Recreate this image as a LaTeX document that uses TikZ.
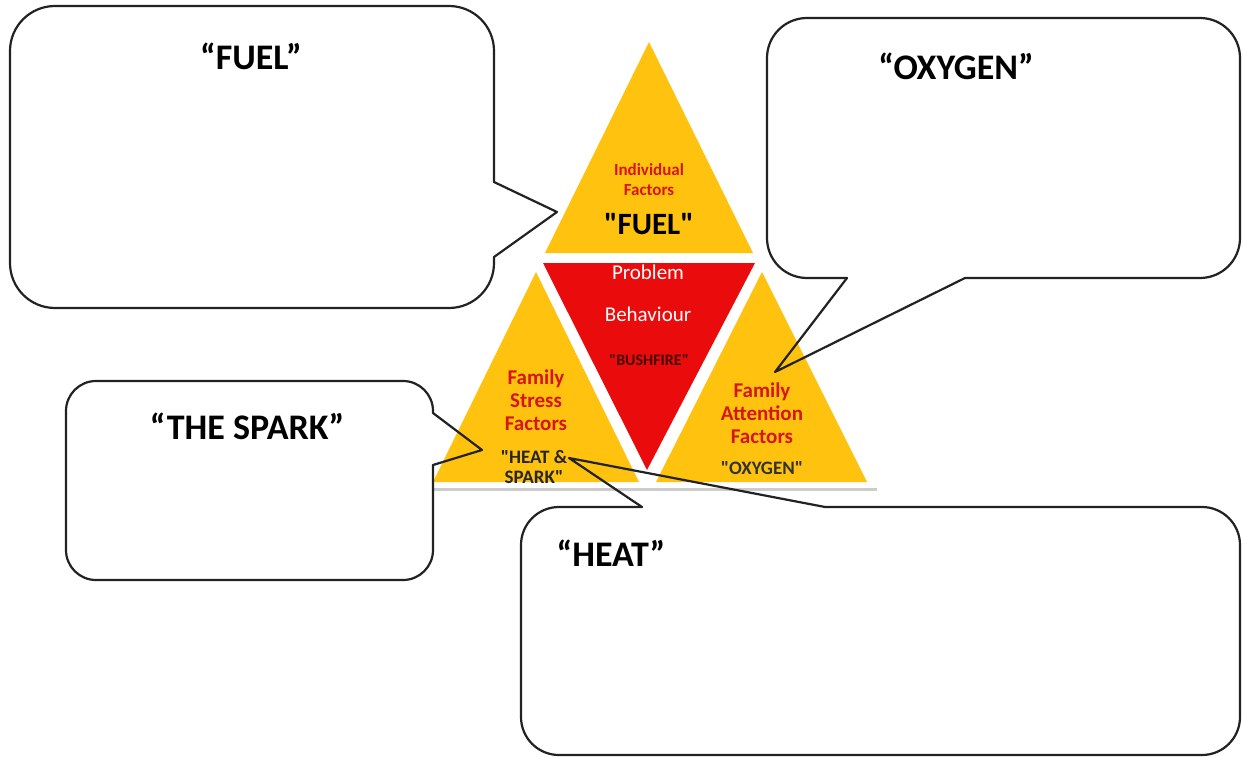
\documentclass[tikz,border=0pt]{standalone}
\usepackage{fontspec}
\setmainfont{Carlito}[Ligatures=TeXOff]
\definecolor{tyellow}{RGB}{255,194,14}
\definecolor{tred}{RGB}{234,12,12}
\definecolor{tredtext}{RGB}{212,22,22}
\definecolor{bushtext}{RGB}{70,8,8}
\definecolor{outline}{RGB}{34,34,34}
\tikzset{
  callout/.style={draw=outline, line width=2.2pt, line cap=round, line join=round},
  bigtitle/.style={font=\fontsize{36}{40}\selectfont\bfseries, text=black, inner sep=0pt},
  redlbl/.style={font=\fontsize{21}{23}\selectfont\bfseries, text=tredtext, align=center, inner sep=0pt},
  blklbl/.style={font=\fontsize{19}{20}\selectfont\bfseries, text=black!85, align=center, inner sep=0pt},
  whitelbl/.style={font=\fontsize{21}{22}\selectfont, text=white, inner sep=0pt},
}
\begin{document}
\begin{tikzpicture}[x=1pt,y=-1pt]
\fill[white] (0,0) rectangle (1243,757);
\useasboundingbox (0,0) rectangle (1243,757);

% ---- fire triangle ----
\draw[gray!40, line width=3pt] (433,489) -- (877,489);
% top: individual factors
\coordinate (apex) at (649,42);
\fill[tyellow] (apex) -- (545,253) -- (753,253) -- cycle;
% centre: problem behaviour
\coordinate (rl) at (543,263);
\coordinate (rr) at (755,263);
\coordinate (rb) at (647,470);
\fill[tred] (rl) -- (rr) -- (rb) -- cycle;
% left: family stress
\coordinate (la) at (536,272);
\fill[tyellow] (la) -- (433,482) -- (639,482) -- cycle;
% right: family attention
\coordinate (ra) at (762,272);
\fill[tyellow] (ra) -- (656,482) -- (867,482) -- cycle;

% triangle texts
\node[redlbl, font=\fontsize{17}{19}\selectfont\bfseries] (ind) at (649,170) {Individual};
\node[redlbl, font=\fontsize{17}{19}\selectfont\bfseries] (indf) at (649,190) {Factors};
\node[blklbl, font=\fontsize{31}{33}\selectfont\bfseries, text=black] (fuelq) at (649,224) {"FUEL"};
\node[whitelbl] (prob) at (648,272) {Problem};
\node[whitelbl] (beh) at (648,314) {Behaviour};
\node[font=\fontsize{16}{18}\selectfont\bfseries, text=bushtext, inner sep=0pt] (bush) at (649,360) {"BUSHFIRE"};
\node[redlbl, align=center] (fsf) at (536,400) {Family\\Stress\\Factors};
\node[blklbl] (heat) at (534,467) {"HEAT \&\\SPARK"};
\node[redlbl, align=center] (faf) at (762,413) {Family\\Attention\\Factors};
\node[font=\fontsize{19}{20}\selectfont\bfseries, text=black!80, inner sep=0pt] (oxy) at (762,468) {"OXYGEN"};

% ---- callout: FUEL ----
\draw[callout, rounded corners=45pt] (494,257) -- (494,308) -- (10,308) -- (10,6) -- (494,6) -- (494,182);
\coordinate (fueltip) at (557,212);
\draw[callout] (494,182) -- (fueltip) -- (494,257);
\node[bigtitle] (fuel) at (251,56) {“FUEL”};

% ---- callout: OXYGEN ----
\draw[callout, rounded corners=40pt] (965,278) -- (1240,278) -- (1240,18) -- (767,18) -- (767,278) -- (847,278);
\coordinate (oxytip) at (775,372);
\draw[callout] (847,278) -- (oxytip) -- (965,278);
\node[bigtitle] (oxygen) at (956,66) {“OXYGEN”};

% ---- callout: THE SPARK ----
\draw[callout, rounded corners=30pt] (433,465) -- (433,580) -- (66,580) -- (66,381) -- (433,381) -- (433,413);
\coordinate (sparktip) at (482,450);
\draw[callout] (433,413) -- (sparktip) -- (433,465);
\node[bigtitle] (spark) at (247,426) {“THE SPARK”};

% ---- callout: HEAT ----
\draw[callout, rounded corners=38pt] (825,507) -- (1240,507) -- (1240,755) -- (521,755) -- (521,507) -- (642,507);
\coordinate (heattip) at (569,458);
\draw[callout] (642,507) -- (heattip) -- (825,507);
\node[bigtitle] (heatlbl) at (611,553) {“HEAT”};
\end{tikzpicture}
\end{document}
